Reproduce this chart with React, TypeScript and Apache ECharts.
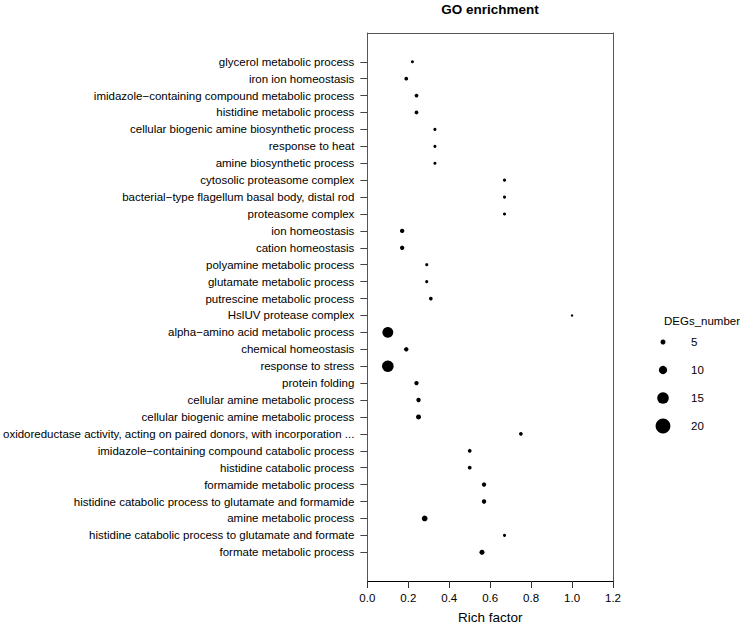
import React, { useEffect, useRef } from "react";
import * as echarts from "echarts";

const categories: string[] = [
  "glycerol metabolic process",
  "iron ion homeostasis",
  "imidazole\u2212containing compound metabolic process",
  "histidine metabolic process",
  "cellular biogenic amine biosynthetic process",
  "response to heat",
  "amine biosynthetic process",
  "cytosolic proteasome complex",
  "bacterial\u2212type flagellum basal body, distal rod",
  "proteasome complex",
  "ion homeostasis",
  "cation homeostasis",
  "polyamine metabolic process",
  "glutamate metabolic process",
  "putrescine metabolic process",
  "HslUV protease complex",
  "alpha\u2212amino acid metabolic process",
  "chemical homeostasis",
  "response to stress",
  "protein folding",
  "cellular amine metabolic process",
  "cellular biogenic amine metabolic process",
  "oxidoreductase activity, acting on paired donors, with incorporation ...",
  "imidazole\u2212containing compound catabolic process",
  "histidine catabolic process",
  "formamide metabolic process",
  "histidine catabolic process to glutamate and formamide",
  "amine metabolic process",
  "histidine catabolic process to glutamate and formate",
  "formate metabolic process",
];

const richFactor: number[] = [
  0.22, 0.19, 0.24, 0.24, 0.33, 0.33, 0.33, 0.67, 0.67, 0.67,
  0.17, 0.17, 0.29, 0.29, 0.31, 1.0, 0.1, 0.19, 0.1, 0.24,
  0.25, 0.25, 0.75, 0.5, 0.5, 0.57, 0.57, 0.28, 0.67, 0.56,
];

const degsNumber: number[] = [
  2, 3, 3, 3, 2, 2, 2, 2, 2, 2,
  4, 4, 2, 2, 3, 1, 14, 4, 15, 4,
  4, 5, 3, 3, 3, 4, 4, 6, 2, 5,
];

const legendSizes: number[] = [5, 10, 15, 20];
const xTicks: number[] = [0, 0.2, 0.4, 0.6, 0.8, 1.0, 1.2];

const FONT = "'Liberation Sans', Arial, Helvetica, sans-serif";
const sizeOf = (n: number) => 1.8 + 0.65 * n;

export default function App() {
  const ref = useRef<HTMLDivElement>(null);
  useEffect(() => {
    if (!ref.current) return;
    const chart = echarts.init(ref.current, undefined, { renderer: "svg" });
    const rowPos = categories.map((_, i) => i + 1);
    const boxColor = "#555";
    const option: any = {
      animation: false,
      backgroundColor: "#fff",
      textStyle: { fontFamily: FONT },
      title: [
        {
          text: "GO enrichment",
          left: 490,
          top: 2,
          textAlign: "center",
          padding: 0,
          textStyle: { fontFamily: FONT, fontSize: 13.5, fontWeight: "bold", color: "#000" },
        },
        {
          text: "DEGs_number",
          left: 664,
          top: 315,
          padding: 0,
          textStyle: { fontFamily: FONT, fontSize: 11.5, fontWeight: "normal", color: "#000" },
        },
      ],
      grid: [
        { left: 366, right: 127, top: 33, bottom: 44 },
        { left: 655, width: 16, top: 342, height: 84 },
      ],
      xAxis: [
        {
          gridIndex: 0,
          type: "value",
          min: xTicks[0],
          max: xTicks[xTicks.length - 1],
          interval: 0.2,
          position: "bottom",
          axisLine: { show: true, onZero: false, lineStyle: { color: "#000", width: 1 } },
          axisTick: { show: true, length: 7, lineStyle: { color: "#333" } },
          axisLabel: {
            fontSize: 11.5,
            color: "#000",
            margin: 11,
            fontFamily: FONT,
            formatter: (v: number) => v.toFixed(1),
          },
          splitLine: { show: false },
          name: "Rich factor",
          nameLocation: "middle",
          nameGap: 29,
          nameTextStyle: { fontSize: 13.5, color: "#000", fontFamily: FONT },
        },
        {
          gridIndex: 0,
          type: "value",
          min: 0,
          max: 1.2,
          position: "top",
          axisLine: { show: true, onZero: false, lineStyle: { color: boxColor } },
          axisTick: { show: false },
          axisLabel: { show: false },
          splitLine: { show: false },
        },
        { gridIndex: 1, type: "value", min: 0, max: 1, show: false },
      ],
      yAxis: [
        {
          gridIndex: 0,
          type: "value",
          inverse: true,
          min: -0.7,
          max: 31.7,
          axisLine: { show: true, onZero: false, lineStyle: { color: boxColor } },
          axisTick: {
            show: true,
            length: 7,
            customValues: rowPos,
            lineStyle: { color: "#444" },
          },
          axisLabel: {
            customValues: rowPos,
            formatter: (v: number) => categories[Math.round(v) - 1] ?? "",
            fontSize: 11.5,
            color: "#000",
            margin: 13,
            fontFamily: FONT,
          },
          splitLine: { show: false },
        },
        {
          gridIndex: 0,
          type: "value",
          position: "right",
          inverse: true,
          min: -0.7,
          max: 31.7,
          axisLine: { show: true, onZero: false, lineStyle: { color: boxColor } },
          axisTick: { show: false },
          axisLabel: { show: false },
          splitLine: { show: false },
        },
        { gridIndex: 1, type: "value", inverse: true, min: 0, max: 3, show: false },
      ],
      series: [
        {
          type: "scatter",
          xAxisIndex: 0,
          yAxisIndex: 0,
          data: categories.map((_, i) => [richFactor[i], i + 1, degsNumber[i]]),
          symbol: "circle",
          symbolSize: (val: number[]) => sizeOf(val[2]),
          itemStyle: { color: "#000", opacity: 1 },
          emphasis: { disabled: true },
        },
        {
          type: "scatter",
          xAxisIndex: 2,
          yAxisIndex: 2,
          data: legendSizes.map((s, i) => [0.5, i, s]),
          symbol: "circle",
          symbolSize: (val: number[]) => sizeOf(val[2]),
          itemStyle: { color: "#000", opacity: 1 },
          emphasis: { disabled: true },
          label: {
            show: true,
            position: "inside",
            align: "left",
            verticalAlign: "middle",
            offset: [28, 0],
            color: "#000",
            fontSize: 11.5,
            fontFamily: FONT,
            formatter: (p: any) => String(p.value[2]),
          },
        },
      ],
    };
    chart.setOption(option);
    return () => chart.dispose();
  }, []);
  return (
    <div
      ref={ref}
      style={{ position: "fixed", left: 0, top: 0, width: 740, height: 629, background: "#fff" }}
    />
  );
}
